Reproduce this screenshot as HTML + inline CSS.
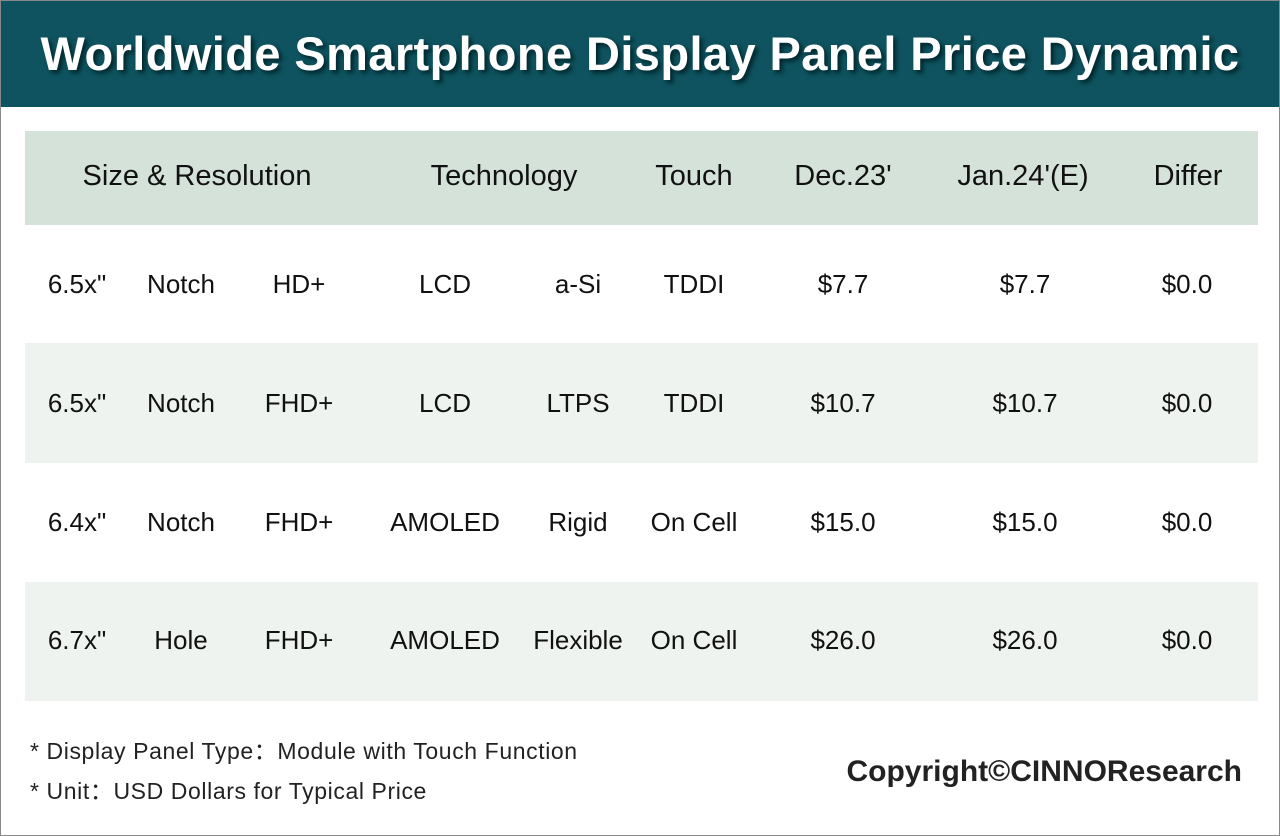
<!DOCTYPE html>
<html><head><style>
body{margin:0;width:1280px;height:836px;position:relative;background:#fff;font-family:"Liberation Sans","DejaVu Sans",sans-serif;overflow:hidden}
.frame{position:absolute;left:0;top:0;width:1278px;height:834px;border:1px solid #888}
.hdr{position:absolute;left:1px;top:1px;width:1278px;height:106px;background:#0e535f}
.title{position:absolute;left:0;top:26px;width:1280px;text-align:center;color:#fff;font-weight:bold;font-size:47px;letter-spacing:0.4px;text-shadow:3px 3px 4px #02262c}
.band{position:absolute;left:25px;width:1233px}
.t{position:absolute;transform:translateX(-50%);white-space:nowrap;color:#111;font-size:26px}
.h{font-size:29px}
.note{position:absolute;left:30px;font-size:23px;color:#222;letter-spacing:0.6px}
</style></head><body>
<div class="frame"></div>
<div class="hdr"></div>
<div class="title">Worldwide Smartphone Display Panel Price Dynamic</div>
<div class="band" style="top:131px;height:94px;background:#d5e2d9"></div>
<div class="band" style="top:343px;height:120px;background:#eef3ef"></div>
<div class="band" style="top:582px;height:119px;background:#eef3ef"></div>

<div class="t h" style="left:197px;top:160px">Size &amp; Resolution</div>
<div class="t h" style="left:504px;top:160px">Technology</div>
<div class="t h" style="left:694px;top:160px">Touch</div>
<div class="t h" style="left:843px;top:160px">Dec.23'</div>
<div class="t h" style="left:1023px;top:160px">Jan.24'(E)</div>
<div class="t h" style="left:1188px;top:160px">Differ</div>

<div class="t" style="left:77px;top:269px">6.5x"</div><div class="t" style="left:181px;top:269px">Notch</div><div class="t" style="left:299px;top:269px">HD+</div><div class="t" style="left:445px;top:269px">LCD</div><div class="t" style="left:578px;top:269px">a-Si</div><div class="t" style="left:694px;top:269px">TDDI</div><div class="t" style="left:843px;top:269px">$7.7</div><div class="t" style="left:1025px;top:269px">$7.7</div><div class="t" style="left:1187px;top:269px">$0.0</div>

<div class="t" style="left:77px;top:388px">6.5x"</div><div class="t" style="left:181px;top:388px">Notch</div><div class="t" style="left:299px;top:388px">FHD+</div><div class="t" style="left:445px;top:388px">LCD</div><div class="t" style="left:578px;top:388px">LTPS</div><div class="t" style="left:694px;top:388px">TDDI</div><div class="t" style="left:843px;top:388px">$10.7</div><div class="t" style="left:1025px;top:388px">$10.7</div><div class="t" style="left:1187px;top:388px">$0.0</div>

<div class="t" style="left:77px;top:507px">6.4x"</div><div class="t" style="left:181px;top:507px">Notch</div><div class="t" style="left:299px;top:507px">FHD+</div><div class="t" style="left:445px;top:507px">AMOLED</div><div class="t" style="left:578px;top:507px">Rigid</div><div class="t" style="left:694px;top:507px">On Cell</div><div class="t" style="left:843px;top:507px">$15.0</div><div class="t" style="left:1025px;top:507px">$15.0</div><div class="t" style="left:1187px;top:507px">$0.0</div>

<div class="t" style="left:77px;top:625px">6.7x"</div><div class="t" style="left:181px;top:625px">Hole</div><div class="t" style="left:299px;top:625px">FHD+</div><div class="t" style="left:445px;top:625px">AMOLED</div><div class="t" style="left:578px;top:625px">Flexible</div><div class="t" style="left:694px;top:625px">On Cell</div><div class="t" style="left:843px;top:625px">$26.0</div><div class="t" style="left:1025px;top:625px">$26.0</div><div class="t" style="left:1187px;top:625px">$0.0</div>

<div class="note" style="top:732px">* Display Panel Type：Module with Touch Function</div>
<div class="note" style="top:772px">* Unit：USD Dollars for Typical Price</div>
<div style="position:absolute;right:38px;top:755px;font-size:30px;font-weight:bold;color:#222">Copyright©CINNOResearch</div>
</body></html>
